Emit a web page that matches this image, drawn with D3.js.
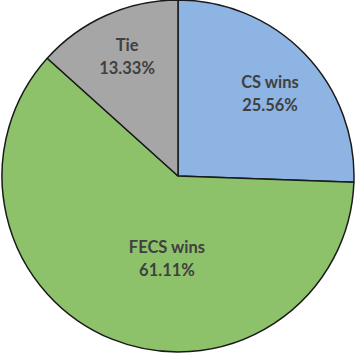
<!DOCTYPE html>
<html><head><meta charset="utf-8">
<script src="https://cdn.jsdelivr.net/npm/d3@7"></script>
<style>body{margin:0;background:#fff}svg{display:block}</style>
</head><body>
<script>
const categories = ["CS wins", "FECS wins", "Tie"];
const values = [25.56, 61.11, 13.33];
const colors = ["#8DB4E2", "#8DC26A", "#A6A6A6"];

const W = 357, H = 355, cx = 178, cy = 176, r = 176;
const svg = d3.select("body").append("svg").attr("width", W).attr("height", H);
const g = svg.append("g").attr("transform", `translate(${cx},${cy})`);
const pie = d3.pie().sort(null).value(d => d.v);
const data = pie(categories.map((c, i) => ({c, v: values[i], col: colors[i]})));
const arc = d3.arc().innerRadius(0).outerRadius(r);
g.selectAll("path").data(data).join("path")
  .attr("d", arc).attr("fill", d => d.data.col)
  .attr("stroke", "#1a1a1a").attr("stroke-width", 1.5).attr("stroke-linejoin", "round");

// label placement (Excel-like): polar position [radius, angle offset in radians]
const labelPos = [[131.5, -0.028], [72, -0.23], [140.6, 0.048]];
data.forEach((d, i) => {
  const a = (d.startAngle + d.endAngle) / 2 + labelPos[i][1];
  const x = Math.sin(a) * labelPos[i][0], y = -Math.cos(a) * labelPos[i][0];
  const t = g.append("text").attr("text-anchor", "middle")
    .attr("font-family", "Lato, sans-serif").attr("font-weight", "bold")
    .attr("font-size", 16.5).attr("fill", "#404040");
  t.append("tspan").attr("x", x).attr("y", y + 6).text(d.data.c);
  t.append("tspan").attr("x", x).attr("y", y + 29).text(d3.format(".2f")(d.data.v) + "%");
});
</script>
</body></html>
